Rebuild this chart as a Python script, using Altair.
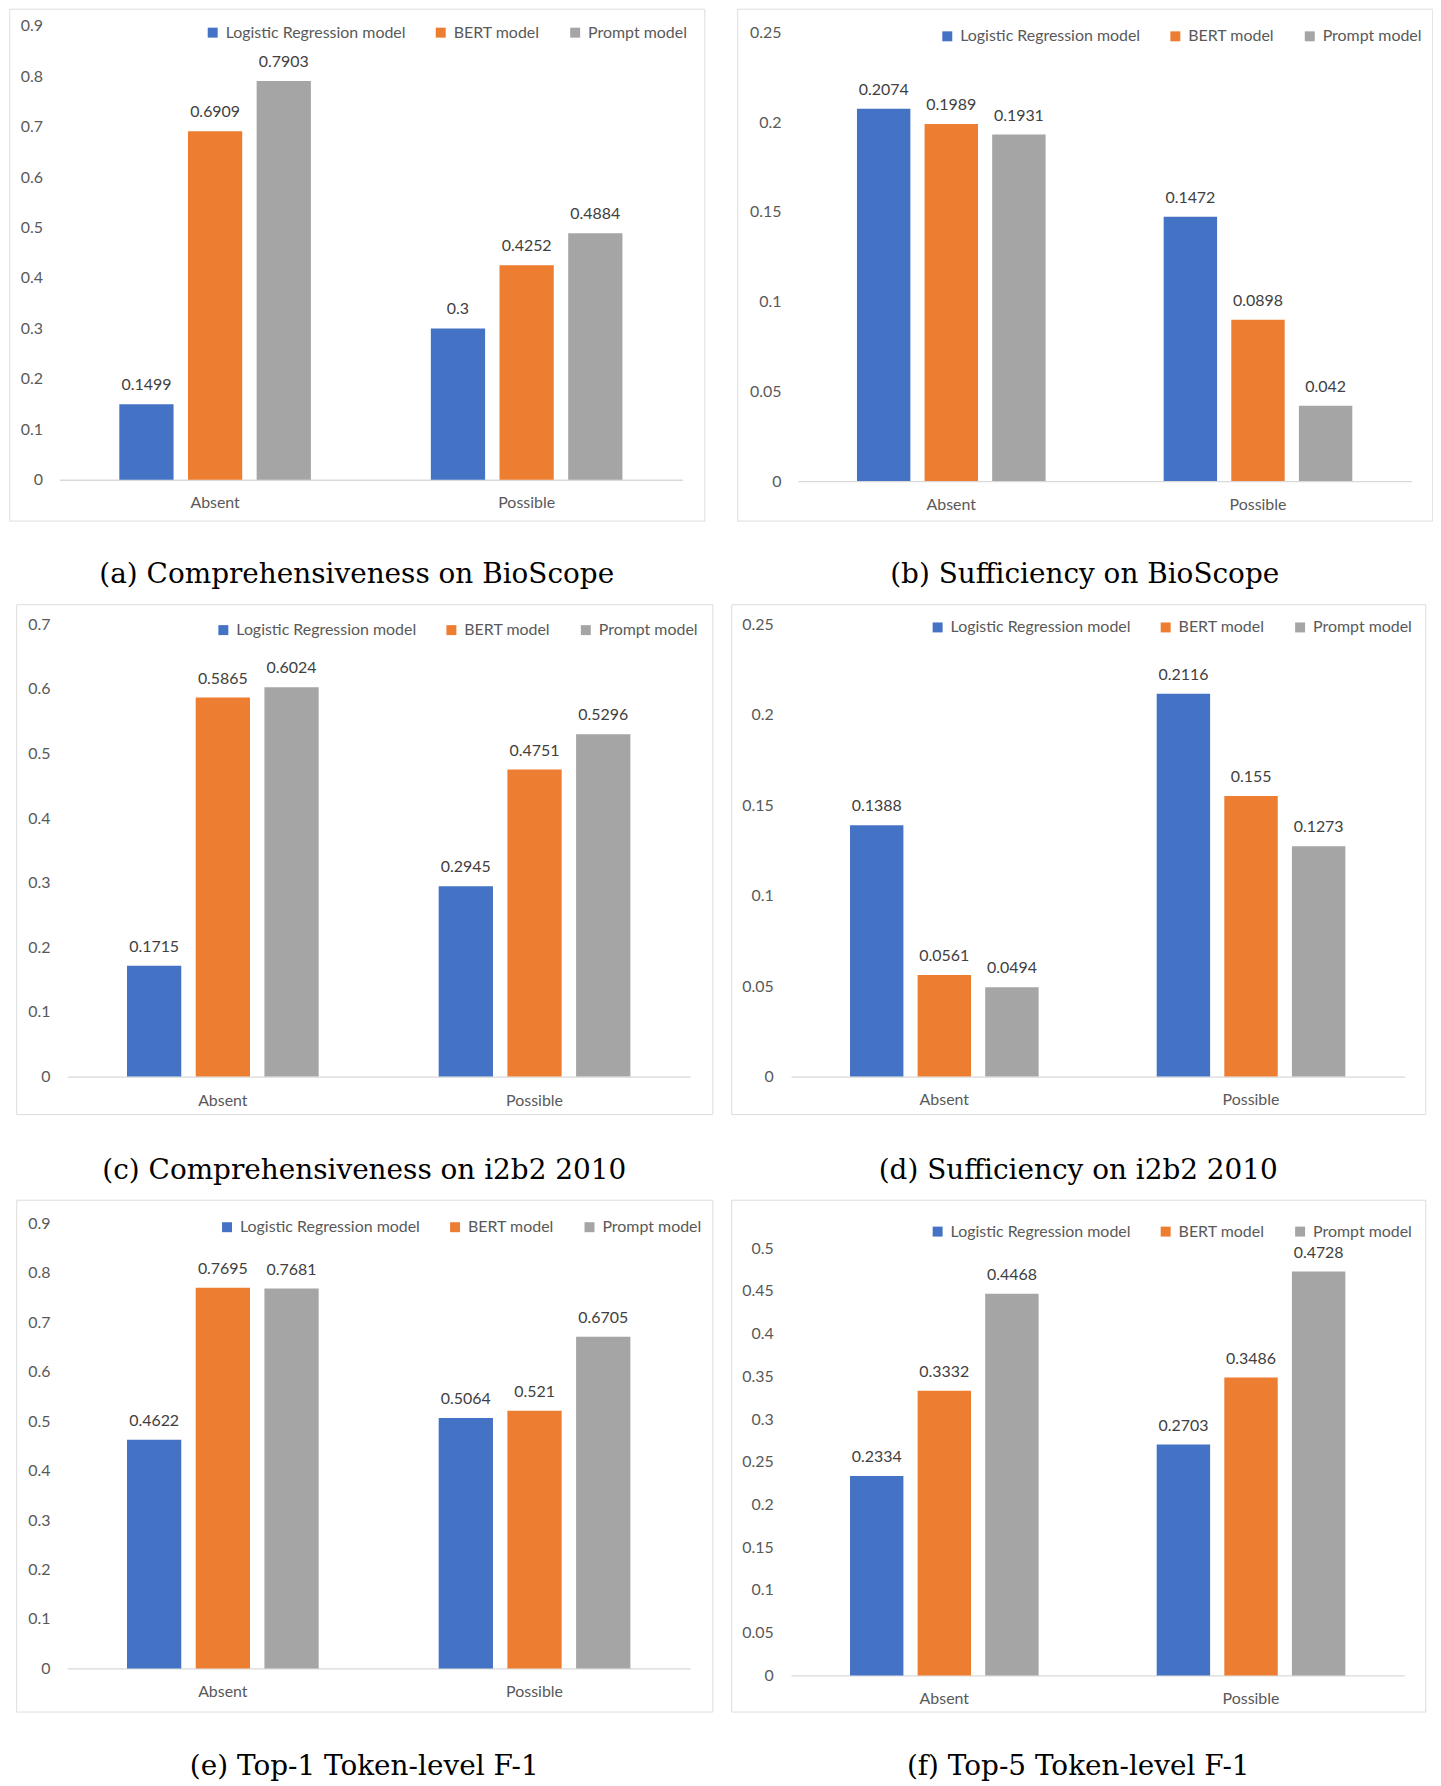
import altair as alt
import pandas as pd

categories = ["Absent", "Possible"]
models = ["Logistic Regression model", "BERT model", "Prompt model"]
colors = ["#4472C4", "#ED7D31", "#A5A5A5"]

# (a) Comprehensiveness on BioScope
a_absent = [0.1499, 0.6909, 0.7903]
a_possible = [0.3, 0.4252, 0.4884]
a_ticks = [0, 0.1, 0.2, 0.3, 0.4, 0.5, 0.6, 0.7, 0.8, 0.9]

# (b) Sufficiency on BioScope
b_absent = [0.2074, 0.1989, 0.1931]
b_possible = [0.1472, 0.0898, 0.042]
b_ticks = [0, 0.05, 0.1, 0.15, 0.2, 0.25]

# (c) Comprehensiveness on i2b2 2010
c_absent = [0.1715, 0.5865, 0.6024]
c_possible = [0.2945, 0.4751, 0.5296]
c_ticks = [0, 0.1, 0.2, 0.3, 0.4, 0.5, 0.6, 0.7]

# (d) Sufficiency on i2b2 2010
d_absent = [0.1388, 0.0561, 0.0494]
d_possible = [0.2116, 0.155, 0.1273]
d_ticks = [0, 0.05, 0.1, 0.15, 0.2, 0.25]

# (e) Top-1 Token-level F-1
e_absent = [0.4622, 0.7695, 0.7681]
e_possible = [0.5064, 0.521, 0.6705]
e_ticks = [0, 0.1, 0.2, 0.3, 0.4, 0.5, 0.6, 0.7, 0.8, 0.9]

# (f) Top-5 Token-level F-1
f_absent = [0.2334, 0.3332, 0.4468]
f_possible = [0.2703, 0.3486, 0.4728]
f_ticks = [0, 0.05, 0.1, 0.15, 0.2, 0.25, 0.3, 0.35, 0.4, 0.45, 0.5]

captions = [
    "(a) Comprehensiveness on BioScope",
    "(b) Sufficiency on BioScope",
    "(c) Comprehensiveness on i2b2 2010",
    "(d) Sufficiency on i2b2 2010",
    "(e) Top-1 Token-level F-1",
    "(f) Top-5 Token-level F-1",
]

FONT = "Lato"
AXIS_COLOR = "#595959"
LABEL_COLOR = "#404040"
FRAME = "#D9D9D9"


def make_df(absent, possible):
    rows = []
    for cat, vals in zip(categories, [absent, possible]):
        for m, v in zip(models, vals):
            rows.append({"category": cat, "model": m, "value": v, "label": str(v)})
    return pd.DataFrame(rows)


def panel(absent, possible, ticks, caption, lay):
    df = make_df(absent, possible)
    W, H = lay["W"], lay["H"]
    base, top = lay["base"], lay["top"]
    yscale = alt.Scale(domain=[0, ticks[-1]], range=[base, top], zero=True, nice=False)
    xscale = alt.Scale(domain=categories, range=lay["xr"], paddingInner=0.385, paddingOuter=0.1925)
    x = alt.X(
        "category:N", scale=xscale, sort=categories,
        axis=alt.Axis(title=None, orient="bottom", offset=base - H, domain=True,
                      domainColor=FRAME, domainWidth=1.3, ticks=False, labelAngle=0,
                      labelBaseline="middle", labelPadding=lay["xl"] - base,
                      labelFont=FONT, labelFontSize=16, labelColor=AXIS_COLOR),
    )
    xo = alt.XOffset("model:N", sort=models,
                     scale=alt.Scale(domain=models, paddingInner=0.21, paddingOuter=0))
    y = alt.Y(
        "value:Q", scale=yscale,
        axis=alt.Axis(title=None, values=ticks, format="~g", domain=False, ticks=False,
                      grid=False, labelPadding=0, offset=-lay["yl"], labelFont=FONT,
                      labelFontSize=16, labelColor=AXIS_COLOR),
    )
    color = alt.Color(
        "model:N", sort=models, scale=alt.Scale(domain=models, range=colors),
        legend=alt.Legend(title=None, orient="none", legendX=lay["lx"], legendY=lay["ly"] - 8,
                          direction="horizontal", symbolType="square", symbolSize=100,
                          symbolStrokeWidth=0, labelFont=FONT, labelFontSize=16,
                          labelColor=AXIS_COLOR, labelOffset=5, columnPadding=27,
                          padding=0, labelLimit=400),
    )
    bars = alt.Chart(df).mark_bar().encode(x=x, xOffset=xo, y=y, color=color)
    text = alt.Chart(df).mark_text(dy=-19, baseline="middle", font=FONT, fontSize=16,
                                   color=LABEL_COLOR).encode(x=x, xOffset=xo, y=y, text="label:N")
    return alt.layer(bars, text).properties(
        width=W, height=H,
        title=alt.TitleParams(caption, orient="bottom", anchor="middle", font="DejaVu Serif",
                              fontSize=28, fontWeight="normal", color="#000000",
                              offset=lay["toff"]),
    )


LA = dict(W=698, H=514, base=473, top=17, xr=[50.3, 676], yl=33.3, lx=196.3, ly=24, xl=496.3, toff=41)
LB = dict(W=698, H=514, base=474.3, top=23.7, xr=[61, 677], yl=44, lx=203, ly=27.7, xl=497.7, toff=41)
LC = dict(W=699, H=512, base=474.3, top=20, xr=[51, 677], yl=34, lx=200, ly=26, xl=498.6, toff=43)
LD = dict(W=697, H=512, base=474.3, top=20, xr=[60, 676], yl=42.3, lx=199.3, ly=23.3, xl=497, toff=43)
LE = dict(W=699, H=514, base=470.7, top=23.7, xr=[51, 677], yl=34, lx=203.7, ly=27.6, xl=493.4, toff=42)
LF = dict(W=697, H=514, base=477.7, top=48.7, xr=[60, 676], yl=42.3, lx=199.3, ly=32, xl=501.3, toff=42)

pa = panel(a_absent, a_possible, a_ticks, captions[0], LA)
pb = panel(b_absent, b_possible, b_ticks, captions[1], LB)
pc = panel(c_absent, c_possible, c_ticks, captions[2], LC)
pd_ = panel(d_absent, d_possible, d_ticks, captions[3], LD)
pe = panel(e_absent, e_possible, e_ticks, captions[4], LE)
pf = panel(f_absent, f_possible, f_ticks, captions[5], LF)

res = dict(color="independent", x="independent", y="independent", xOffset="independent")
row1 = alt.hconcat(pa, pb, spacing=31).resolve_scale(**res)
row2 = alt.hconcat(pc, pd_, spacing=17).resolve_scale(**res)
row3 = alt.hconcat(pe, pf, spacing=17).resolve_scale(**res)

chart = (
    alt.vconcat(row1, row2, row3, spacing=13, center=True,
                padding={"top": -4, "left": 0, "right": 0, "bottom": 0})
    .resolve_scale(**res)
    .configure_view(stroke=FRAME, strokeWidth=1.3)
    .configure(background="white")
)

chart.save("out.html", embed_options={"renderer": "svg", "actions": False})
